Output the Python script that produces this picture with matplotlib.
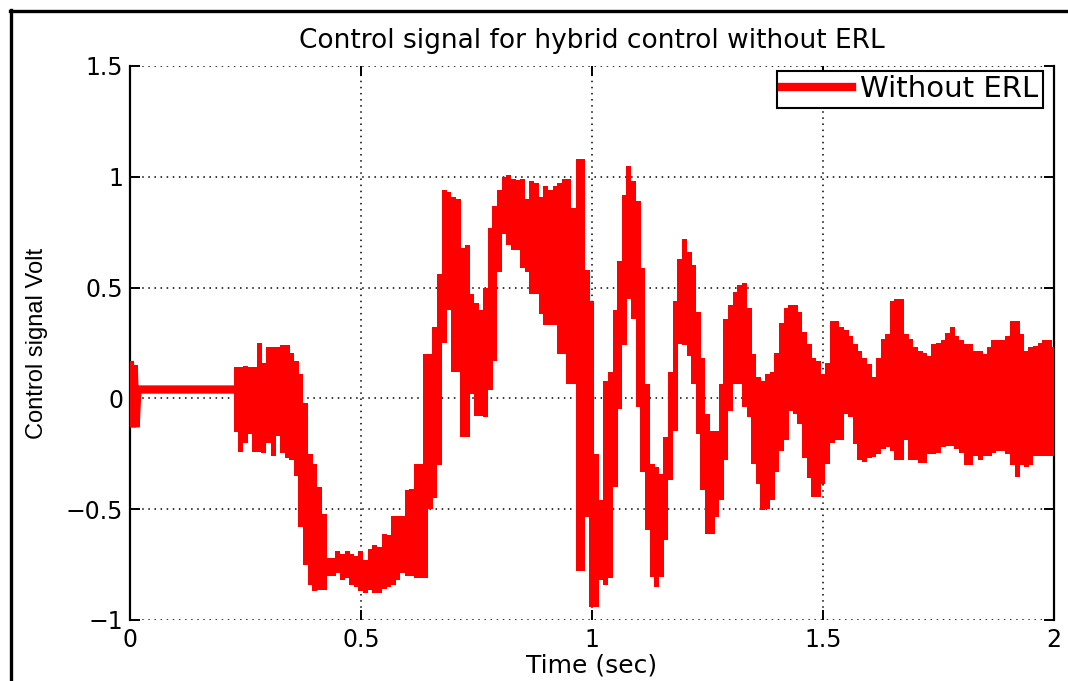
import numpy as np
import matplotlib
matplotlib.use('Agg')
import matplotlib.pyplot as plt
from matplotlib.lines import Line2D

# start of the record: short kick at t=0, then flat output until the controller kicks in
t_start = [0.0, 0.004, 0.008, 0.012, 0.016, 0.23]
v_start = [0.15, -0.13, 0.15, -0.13, 0.04, 0.04]

# band of the noisy signal, sampled every 0.01 s from 0.23 s to 2.00 s (upper / lower edge)
band_upper = [
    0.14, 0.14, 0.145, 0.14, 0.14, 0.25, 0.16, 0.23, 0.23, 0.23,
    0.24, 0.24, 0.205, 0.17, 0.11, -0.02, -0.25, -0.295, -0.40, -0.52,
    -0.72, -0.72, -0.69, -0.70, -0.69, -0.70, -0.71, -0.69, -0.73, -0.68,
    -0.66, -0.67, -0.61, -0.615, -0.53, -0.53, -0.53, -0.415, -0.41, -0.295,
    -0.295, 0.20, 0.20, 0.32, 0.56, 0.94, 0.93, 0.91, 0.90, 0.68,
    0.69, 0.47, 0.43, 0.40, 0.50, 0.77, 0.87, 0.94, 1.00, 1.01,
    0.99, 0.985, 0.99, 0.90, 0.98, 0.97, 0.91, 0.96, 0.94, 0.96,
    0.97, 0.99, 0.99, 0.86, 1.08, 1.08, 0.58, 0.44, -0.25, -0.46,
    0.08, 0.12, 0.40, 0.62, 0.92, 1.05, 0.98, 0.89, 0.59, 0.065,
    -0.295, -0.31, -0.34, -0.176, 0.12, 0.44, 0.63, 0.72, 0.66, 0.60,
    0.39, 0.18, -0.07, -0.146, -0.146, 0.065, 0.36, 0.42, 0.48, 0.51,
    0.52, 0.41, 0.20, 0.095, 0.08, 0.11, 0.12, 0.205, 0.34, 0.41,
    0.42, 0.42, 0.39, 0.30, 0.245, 0.18, 0.17, 0.11, 0.16, 0.35,
    0.35, 0.32, 0.31, 0.28, 0.245, 0.215, 0.18, 0.155, 0.095, 0.18,
    0.27, 0.29, 0.44, 0.45, 0.45, 0.29, 0.27, 0.23, 0.215, 0.205,
    0.19, 0.245, 0.25, 0.265, 0.295, 0.32, 0.28, 0.265, 0.245, 0.245,
    0.215, 0.215, 0.20, 0.23, 0.265, 0.265, 0.265, 0.28, 0.35, 0.35,
    0.29, 0.215, 0.23, 0.235, 0.25, 0.265, 0.265, 0.23,
]
band_lower = [
    -0.15, -0.24, -0.20, -0.16, -0.24, -0.24, -0.245, -0.20, -0.26, -0.17,
    -0.245, -0.27, -0.28, -0.35, -0.58, -0.75, -0.84, -0.87, -0.865, -0.865,
    -0.80, -0.80, -0.79, -0.82, -0.81, -0.84, -0.85, -0.87, -0.88, -0.865,
    -0.88, -0.88, -0.86, -0.85, -0.84, -0.82, -0.79, -0.80, -0.80, -0.81,
    -0.81, -0.81, -0.50, -0.45, -0.30, 0.25, 0.40, 0.12, 0.12, -0.176,
    -0.176, 0.02, -0.08, -0.08, -0.085, 0.04, 0.17, 0.57, 0.74, 0.69,
    0.67, 0.67, 0.59, 0.57, 0.47, 0.47, 0.38, 0.33, 0.33, 0.33,
    0.20, 0.20, 0.065, 0.065, -0.78, -0.78, -0.535, -0.94, -0.94, -0.82,
    -0.84, -0.81, -0.40, -0.05, 0.24, 0.45, 0.36, -0.04, -0.33, -0.595,
    -0.805, -0.85, -0.805, -0.64, -0.37, -0.146, 0.245, 0.24, 0.19, 0.065,
    -0.16, -0.415, -0.61, -0.61, -0.535, -0.46, -0.28, -0.056, 0.065, 0.065,
    -0.04, -0.086, -0.295, -0.385, -0.505, -0.50, -0.46, -0.33, -0.236, -0.19,
    -0.056, -0.07, -0.115, -0.27, -0.36, -0.445, -0.445, -0.385, -0.295, -0.20,
    -0.19, -0.19, -0.07, -0.085, -0.205, -0.28, -0.285, -0.27, -0.265, -0.25,
    -0.23, -0.22, -0.236, -0.28, -0.28, -0.19, -0.28, -0.28, -0.29, -0.29,
    -0.25, -0.25, -0.245, -0.22, -0.215, -0.215, -0.23, -0.245, -0.30, -0.30,
    -0.26, -0.28, -0.26, -0.26, -0.245, -0.236, -0.236, -0.25, -0.30, -0.355,
    -0.30, -0.31, -0.30, -0.26, -0.26, -0.26, -0.26, -0.26,
]
t_band = np.linspace(0.23, 2.0, len(band_upper))

x_ticks = [0, 0.5, 1, 1.5, 2]
x_tick_labels = ['0', '0.5', '1', '1.5', '2']
y_ticks = [-1, -0.5, 0, 0.5, 1, 1.5]
y_tick_labels = ['\u22121', '\u22120.5', '0', '0.5', '1', '1.5']

sig_color = '#ff0000'

fig = plt.figure(figsize=(10.68, 6.81), dpi=100)
ax = fig.add_axes([0.1217, 0.0896, 0.8652, 0.8135])

ax.plot(t_start, v_start, color=sig_color, linewidth=6, solid_joinstyle='miter',
        label='Without ERL', zorder=3)
# one slim column per sample, from the lower to the upper edge of the band
band_height = np.array(band_upper) - np.array(band_lower)
ax.bar(t_band, band_height, bottom=band_lower, width=0.0108, color=sig_color,
       linewidth=0, zorder=3)

ax.set_xlim(0, 2)
ax.set_ylim(-1, 1.5)
ax.set_xticks(x_ticks)
ax.set_xticklabels(x_tick_labels)
ax.set_yticks(y_ticks)
ax.set_yticklabels(y_tick_labels)

ax.grid(True, color='black', linestyle=(0, (1, 3)), linewidth=1.1)
ax.set_axisbelow(True)

ax.spines['top'].set_visible(False)
ax.spines['bottom'].set_visible(False)
ax.spines['left'].set_linewidth(1.6)
ax.spines['right'].set_linewidth(1.6)
ax.tick_params(direction='in', length=7, width=1.4, top=True, right=True,
               labelsize=17)
ax.tick_params(axis='x', pad=6)
ax.tick_params(axis='y', pad=5)

ax.set_title('Control signal for hybrid control without ERL', fontsize=19, pad=13)
ax.set_xlabel('Time (sec)', fontsize=18, labelpad=1)
ax.set_ylabel('Control signal Volt', fontsize=17, family='Liberation Sans')
ax.yaxis.set_label_coords(-0.089, 0.5)

leg = ax.legend(loc='upper right', bbox_to_anchor=(0.988, 0.991), fontsize=21,
                frameon=True, fancybox=False, framealpha=1, edgecolor='black',
                borderpad=0.15, handlelength=2.4, handletextpad=0.3, borderaxespad=0)
leg.get_frame().set_linewidth(1.5)

# black frame around the figure (top and left edges visible in the screenshot)
fig.add_artist(Line2D([10 / 1068, 1], [1 - 10.5 / 681, 1 - 10.5 / 681],
                      transform=fig.transFigure, color='black', linewidth=2.4))
fig.add_artist(Line2D([10.5 / 1068, 10.5 / 1068], [0, 1 - 9.5 / 681],
                      transform=fig.transFigure, color='black', linewidth=2.4))

fig.savefig('out.png', dpi=100)
